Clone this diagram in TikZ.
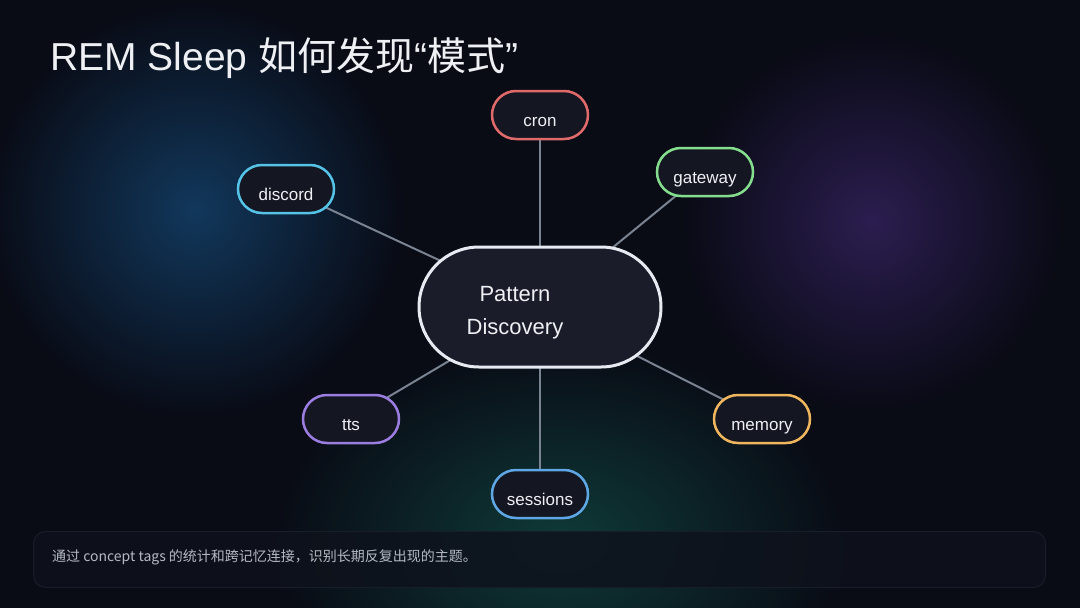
\documentclass[tikz,border=0pt]{standalone}
\usepackage{fontspec}
\setmainfont{Liberation Sans}
\newfontfamily\cjk{Noto Sans CJK SC}
\usetikzlibrary{fadings,backgrounds}
\pgfdeclarelayer{links}
\pgfsetlayers{background,links,main}
\tikzfading[name=glowfade, inner color=transparent!0, outer color=transparent!100]
\definecolor{bg}{HTML}{090B15}
\definecolor{glowblue}{HTML}{12385C}
\definecolor{glowpurple}{HTML}{2C1E50}
\definecolor{glowteal}{HTML}{0F3A38}
\definecolor{nodefill}{HTML}{141722}
\definecolor{hubfill}{HTML}{1A1C2A}
\definecolor{hubline}{HTML}{E8EAF2}
\definecolor{linkc}{HTML}{7A8392}
\definecolor{txt}{HTML}{EEF0F4}
\definecolor{captxt}{HTML}{B4B9C4}
\definecolor{capfill}{HTML}{0E121C}
\definecolor{capline}{HTML}{181D2A}
\definecolor{cronc}{HTML}{E06A6A}
\definecolor{gatec}{HTML}{84DE8E}
\definecolor{discc}{HTML}{55C3E6}
\definecolor{ttsc}{HTML}{9B7DE0}
\definecolor{memc}{HTML}{F0B65E}
\definecolor{sessc}{HTML}{5EA6E4}
\tikzset{
  leaf/.style={draw=#1, line width=2.5pt, fill=nodefill, rounded corners=24pt,
    minimum width=96pt, minimum height=48pt, inner sep=0pt,
    text height=23pt, text depth=0pt, text=txt, font=\fontsize{17}{20}\selectfont},
  hub/.style={draw=hubline, line width=3pt, fill=hubfill, rounded corners=60pt,
    minimum width=242pt, minimum height=120pt, inner sep=0pt},
  hubtext/.style={text=txt, align=center, inner sep=0pt, font=\fontsize{22}{33}\selectfont},
  link/.style={draw=linkc, line width=2pt},
  glow/.style={fill=#1, path fading=glowfade}
}
\begin{document}
\begin{tikzpicture}[x=1pt,y=-1pt]
\useasboundingbox (0,0) rectangle (1080,608);
\begin{scope}[on background layer]
\clip (0,0) rectangle (1080,608);
\fill[bg] (0,0) rectangle (1080,608);
% background glows
\fill[glow=glowblue] (195,210) circle (210pt);
\fill[glow=glowpurple] (872,222) circle (190pt);
\fill[glow=glowteal] (560,540) ellipse (290pt and 200pt);
\end{scope}
% title
\node[anchor=base west, inner sep=0pt, text=txt, font=\fontsize{39}{44}\selectfont] (title) at (50,70)
  {REM Sleep {\cjk 如何发现}“{\cjk 模式}”};
% nodes
\node[hub] (hub) at (540,307) {};
\node[hubtext] (hubt) at (515,313) {Pattern\\Discovery};
\node[leaf=cronc] (cron) at (540,115) {cron};
\node[leaf=gatec] (gateway) at (705,172) {gateway};
\node[leaf=discc] (discord) at (286,189) {discord};
\node[leaf=ttsc] (tts) at (351,419) {tts};
\node[leaf=memc] (memory) at (762,419) {memory};
\node[leaf=sessc] (sessions) at (540,494) {sessions};
\begin{pgfonlayer}{links}
\foreach \n in {cron,gateway,discord,tts,memory,sessions}
  \draw[link] (hub.center) -- (\n.center);
\end{pgfonlayer}
% caption
\node[draw=capline, line width=1pt, fill=capfill, fill opacity=0.85, rounded corners=12pt,
  minimum width=1012pt, minimum height=56pt, anchor=north west] (capbox) at (33,531) {};
\node[anchor=west, inner sep=0pt, text=captxt, font=\cjk\fontsize{14}{16}\selectfont] (cap)
  at (52,557) {通过 concept tags 的统计和跨记忆连接，识别长期反复出现的主题。};
\end{tikzpicture}
\end{document}
